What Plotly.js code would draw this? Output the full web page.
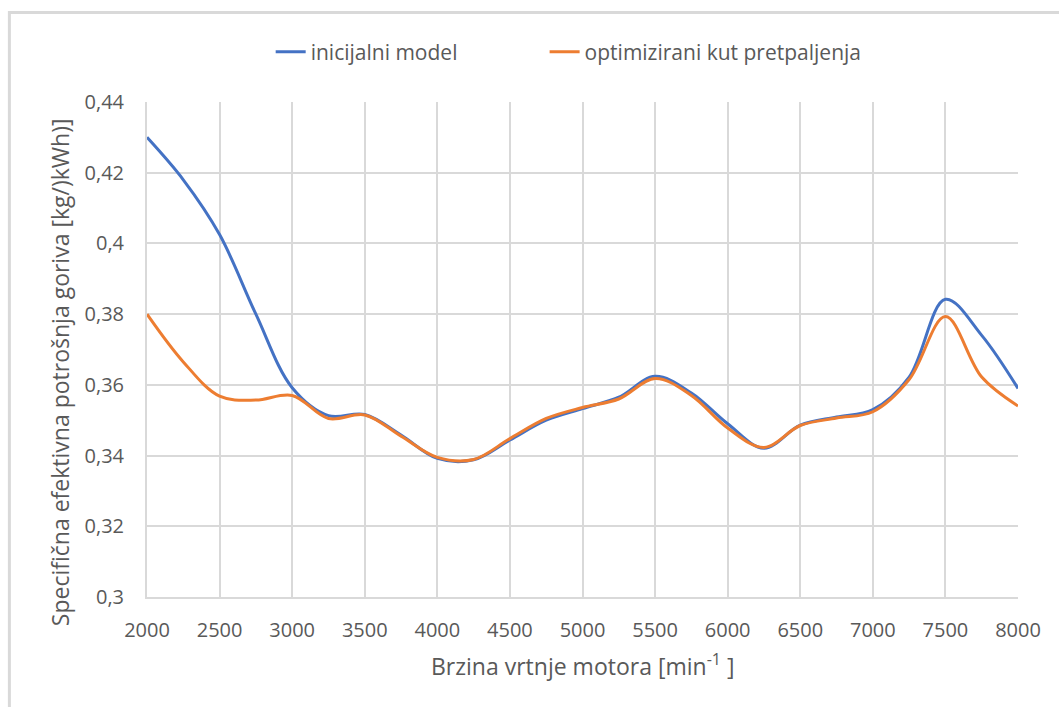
<!DOCTYPE html>
<html>
<head>
<meta charset="utf-8">
<script src="https://cdn.plot.ly/plotly-3.0.1.min.js"></script>
<style>html,body{margin:0;padding:0;background:#fff;}#chart{width:1059px;height:707px;}</style>
</head>
<body>
<div id="chart"></div>
<script>
const rpm = [2000,2250,2500,2750,3000,3250,3500,3750,4000,4250,4500,4750,5000,5250,5500,5750,6000,6250,6500,6750,7000,7250,7500,7750,8000];
const inicijalniModel = [0.430,0.418,0.4025,0.380,0.3592,0.3513,0.3516,0.3458,0.3392,0.3388,0.3444,0.3500,0.3533,0.3565,0.3624,0.3577,0.3490,0.3421,0.3486,0.3509,0.3530,0.3622,0.3842,0.3740,0.3590];
const optimiziraniKut = [0.380,0.3665,0.3568,0.3557,0.3570,0.3505,0.3515,0.3455,0.3395,0.3389,0.3448,0.3505,0.3536,0.3560,0.3618,0.3570,0.3478,0.3423,0.3485,0.3506,0.3524,0.3615,0.3793,0.3622,0.3540];
const seriesNames = ['inicijalni model','optimizirani kut pretpaljenja'];
const yTicks = [0.30,0.32,0.34,0.36,0.38,0.40,0.42,0.44];
const xTicks = [2000,2500,3000,3500,4000,4500,5000,5500,6000,6500,7000,7500,8000];
const xTitle = 'Brzina vrtnje motora [min<sup>-1</sup> ]';
const yTitle = 'Specifična efektivna potrošnja goriva [kg/)kWh)]';

const font = 'Open Sans, Noto Sans, sans-serif';
const traces = [
  {x: rpm, y: inicijalniModel, name: seriesNames[0], type: 'scatter', mode: 'lines', legend: 'legend',
   line: {color: '#4472C4', width: 3, shape: 'spline', smoothing: 1}},
  {x: rpm, y: optimiziraniKut, name: seriesNames[1], type: 'scatter', mode: 'lines', legend: 'legend2',
   line: {color: '#ED7D31', width: 3, shape: 'spline', smoothing: 1}}
];
const legendFont = {family: font, size: 21, color: '#595959'};
const layout = {
  width: 1059, height: 707,
  margin: {l: 147, r: 41, t: 102, b: 110},
  paper_bgcolor: '#ffffff', plot_bgcolor: '#ffffff',
  separators: ',.',
  font: {family: font, color: '#595959', size: 20},
  showlegend: true,
  legend: {orientation: 'h', x: 0.142, xanchor: 'left', y: 1.101, yanchor: 'middle',
           font: legendFont, bgcolor: 'rgba(0,0,0,0)'},
  legend2: {orientation: 'h', x: 0.4565, xanchor: 'left', y: 1.101, yanchor: 'middle',
           font: legendFont, bgcolor: 'rgba(0,0,0,0)'},
  xaxis: {range: [2000, 8000], tickvals: xTicks, showgrid: true, gridcolor: '#d9d9d9', gridwidth: 2,
          zeroline: false, showline: true, linecolor: '#d9d9d9', linewidth: 2, ticks: '',
          tickfont: {family: font, size: 20, color: '#595959'}, ticklabelstandoff: 14,
          title: {text: ''}},
  yaxis: {range: [0.3, 0.44], tickvals: yTicks, showgrid: true, gridcolor: '#d9d9d9', gridwidth: 2,
          zeroline: false, showline: true, linecolor: '#d9d9d9', linewidth: 2, ticks: '',
          tickfont: {family: font, size: 20, color: '#595959'}, ticklabelstandoff: 17,
          title: {text: ''}},
  annotations: [
    {xref: 'paper', yref: 'paper', x: -0.1, y: 0.454, xanchor: 'center', yanchor: 'middle',
     text: yTitle, textangle: -90, showarrow: false,
     font: {family: font, size: 23, color: '#595959'}},
    {xref: 'paper', yref: 'paper', x: 0.501, y: -0.137, xanchor: 'center', yanchor: 'middle',
     text: xTitle, showarrow: false,
     font: {family: font, size: 23, color: '#595959'}}
  ],
  shapes: [{type: 'rect', xref: 'paper', yref: 'paper', x0: -0.158, x1: 1.06, y0: -0.25, y1: 1.181,
            line: {color: '#d9d9d9', width: 3}, layer: 'below'}]
};
Plotly.newPlot('chart', traces, layout, {displayModeBar: false, staticPlot: true});
</script>
</body>
</html>
